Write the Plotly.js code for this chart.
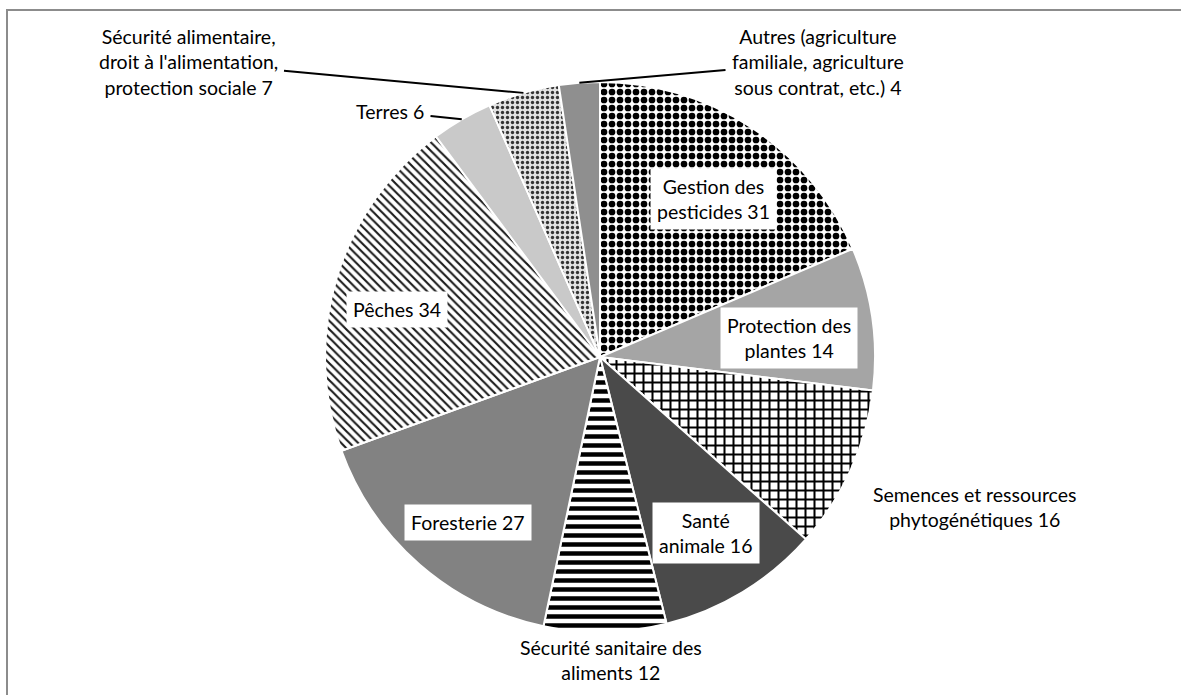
<!DOCTYPE html>
<html>
<head>
<meta charset="utf-8">
<script src="https://cdn.plot.ly/plotly-3.0.1.min.js"></script>
<style>
  html, body { margin: 0; padding: 0; background: #fff; overflow: hidden; }
  #wrap { position: relative; width: 1181px; height: 695px; }
  #chart { position: absolute; left: 0; top: 0; width: 1181px; height: 695px; }
  #frame { position: absolute; left: 6px; top: 9px; width: 1300px; height: 800px;
           border-left: 2px solid #8c8c8c; border-top: 2px solid #8c8c8c; pointer-events: none; }
</style>
</head>
<body>
<div id="wrap">
  <div id="chart"></div>
  <div id="frame"></div>
</div>
<script>
// ---- data ----
const categories = [
  "Gestion des<br>pesticides",
  "Protection des<br>plantes",
  "Semences et ressources<br>phytogénétiques",
  "Santé<br>animale",
  "Sécurité sanitaire des<br>aliments",
  "Foresterie",
  "Pêches",
  "Terres",
  "Sécurité alimentaire,<br>droit à l'alimentation,<br>protection sociale",
  "Autres (agriculture<br>familiale, agriculture<br>sous contrat, etc.)"
];
const values = [31, 14, 16, 16, 12, 27, 34, 6, 7, 4];

// ---- styles ----
const sliceColors = ["#ffffff", "#a5a5a5", "#ffffff", "#4a4a4a", "#ffffff", "#828282", "#ffffff", "#c9c9c9", "#e2e2e2", "#8f8f8f"];
const patShapes   = [".", "", "+", "", "-", "", "\\", "", ".", ""];
const patFg       = ["#000000", "#a5a5a5", "#000000", "#4a4a4a", "#000000", "#828282", "#1a1a1a", "#c9c9c9", "#333333", "#8f8f8f"];
const patSize     = [8, 8, 9, 8, 9, 8, 6, 8, 5, 8];
const patSolid    = [0.55, 0.3, 0.4, 0.3, 0.5, 0.3, 0.35, 0.3, 0.35, 0.3];

// label placement (pixel centres) and kind
const W = 1181, H = 695;
const cx = 600, cy = 357, R = 275;
const labelPos = [
  [713, 199], [789, 338], [975, 507], [706, 533], [611, 660],
  [468, 522], [397, 309], [390, 112], [188, 62], [818, 62]
];
const labelBox   = [true, true, false, true, false, true, true, false, false, false];
const labelArrow = [false, false, false, false, false, false, false, true, true, true];

const trace = {
  type: "pie",
  values: values,
  labels: categories,
  sort: false,
  direction: "clockwise",
  rotation: 0,
  textinfo: "none",
  hoverinfo: "label+value",
  marker: {
    colors: sliceColors,
    line: { color: "#ffffff", width: 2 },
    pattern: {
      shape: patShapes,
      fgcolor: patFg,
      bgcolor: sliceColors,
      size: patSize,
      solidity: patSolid,
      fillmode: "replace"
    }
  },
  domain: { x: [(cx - R) / W, (cx + R) / W], y: [1 - (cy + R) / H, 1 - (cy - R) / H] },
  showlegend: false
};

const total = values.reduce((a, b) => a + b, 0);
let cum = 0;
const annotations = values.map((v, i) => {
  const mid = (cum + v / 2) / total * 2 * Math.PI;
  cum += v;
  const text = categories[i] + " " + v;
  const font = { family: "Lato, 'Open Sans', sans-serif", size: 19.5, color: "#000000" };
  if (labelArrow[i]) {
    const axp = cx + R * Math.sin(mid);
    const ayp = cy - R * Math.cos(mid);
    return {
      xref: "paper", yref: "paper",
      x: axp / W, y: 1 - ayp / H,
      ax: labelPos[i][0] - axp, ay: labelPos[i][1] - ayp,
      text: text, font: font, showarrow: true, arrowhead: 0, arrowwidth: 2,
      arrowcolor: "#000000", standoff: 0, startstandoff: 0,
      align: "center", borderpad: 6
    };
  }
  return {
    xref: "paper", yref: "paper",
    x: labelPos[i][0] / W, y: 1 - labelPos[i][1] / H,
    xanchor: "center", yanchor: "middle",
    text: text, font: font, showarrow: false, align: "center",
    bgcolor: labelBox[i] ? "#ffffff" : "rgba(0,0,0,0)",
    borderpad: 6
  };
});

const layout = {
  width: W, height: H,
  margin: { l: 0, r: 0, t: 0, b: 0 },
  paper_bgcolor: "#ffffff",
  plot_bgcolor: "#ffffff",
  showlegend: false,
  annotations: annotations
};

Plotly.newPlot("chart", [trace], layout, { displayModeBar: false, staticPlot: true });
</script>
</body>
</html>
